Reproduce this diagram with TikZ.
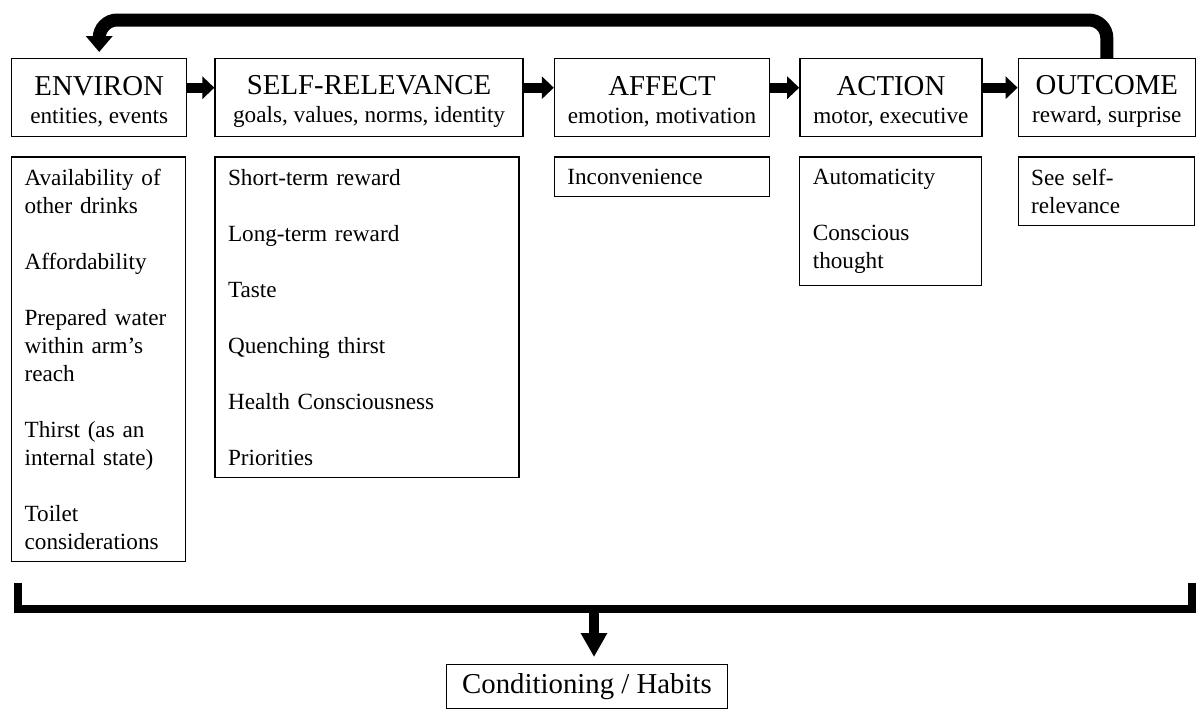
\documentclass[tikz,border=0pt]{standalone}
\usepackage{fontspec}
\setmainfont{Liberation Serif}
\usetikzlibrary{arrows.meta,positioning}
\newcommand{\headfont}{\fontsize{14.4pt}{14pt}\selectfont}
\newcommand{\subfont}{\fontsize{11.6pt}{14pt}\selectfont}

\begin{document}
\begin{tikzpicture}[x=0.5pt,y=-0.5pt,node distance=16pt,
  head/.style={draw, line width=0.7pt, align=center, minimum height=39pt, inner sep=0pt, text height=27.5pt, font=\headfont},
  detail/.style={draw, line width=0.6pt, align=left, inner xsep=6.5pt, inner ysep=6pt, font=\subfont},
  flow/.style={line width=5pt, -{Triangle[width=11pt,length=6pt]}},
  drop/.style={line width=5pt, -{Triangle[width=12.5pt,length=12pt]}},
  bigflow/.style={line width=6.5pt, rounded corners=9pt, -{Triangle[width=13pt,length=8pt]}},
  bracket/.style={line width=4pt}]
    \useasboundingbox (0,0) rectangle (1197,709);
    % stages
    \node [head, minimum width=87.5pt, anchor=north west] (env) at (11,58) {ENVIRON\\{\subfont entities, events}};
    \node [head, minimum width=154pt, right=13.5pt of env] (self) {SELF-RELEVANCE\\{\subfont goals, values, norms, identity}};
    \node [head, minimum width=107.5pt, right=15pt of self] (aff) {AFFECT\\{\subfont emotion, motivation}};
    \node [head, minimum width=91pt, right=14.5pt of aff] (act) {ACTION\\{\subfont motor, executive}};
    \node [head, minimum width=88.5pt, right=17.5pt of act] (out) {OUTCOME\\{\subfont reward, surprise}};
    % factors
    \node [detail, text width=74pt, below=9.5pt of env.south west, anchor=north west] (envd)
        {Availability of\\other drinks\\[14pt]Affordability\\[14pt]Prepared water\\within arm’s\\reach\\[14pt]Thirst (as an\\internal state)\\[14pt]Toilet\\considerations};
    \node [detail, text width=139pt, below=9.5pt of self.south west, anchor=north west] (selfd)
        {Short-term reward\\[14pt]Long-term reward\\[14pt]Taste\\[14pt]Quenching thirst\\[14pt]Health Consciousness\\[14pt]Priorities};
    \node [detail, text width=94.5pt, below=9.5pt of aff.south west, anchor=north west] (affd) {Inconvenience};
    \node [detail, text width=78pt, below=9.5pt of act.south west, anchor=north west] (actd)
        {Automaticity\\[14pt]Conscious\\thought};
    \node [detail, text width=75pt, below=9.5pt of out.south west, anchor=north west] (outd) {See self-\\relevance};
    \node [draw, line width=0.6pt, font=\headfont, anchor=north, minimum height=22pt, inner xsep=8pt] (cond) at (587,664) {Conditioning / Habits};
    % arrows
    \draw[flow] ([yshift=5pt]env.east) -- ([yshift=5pt]self.west);
    \draw[flow] ([yshift=5pt]self.east) -- ([yshift=5pt]aff.west);
    \draw[flow] ([yshift=5pt]aff.east) -- ([yshift=5pt]act.west);
    \draw[flow] ([yshift=5pt]act.east) -- ([yshift=5pt]out.west);
    \coordinate (fb) at (600,20);
    \draw[bigflow] (out.north) |- (fb) -| ([yshift=3pt]env.north);
    \coordinate (bl) at (18,583);
    \coordinate (br) at (1192,583);
    \coordinate (bm) at (594,609);
    \draw[bracket] (bl) |- (bm) -| (br);
    \draw[drop] (bm) -- ([yshift=3.5pt]bm |- cond.north);
\end{tikzpicture}
\end{document}
